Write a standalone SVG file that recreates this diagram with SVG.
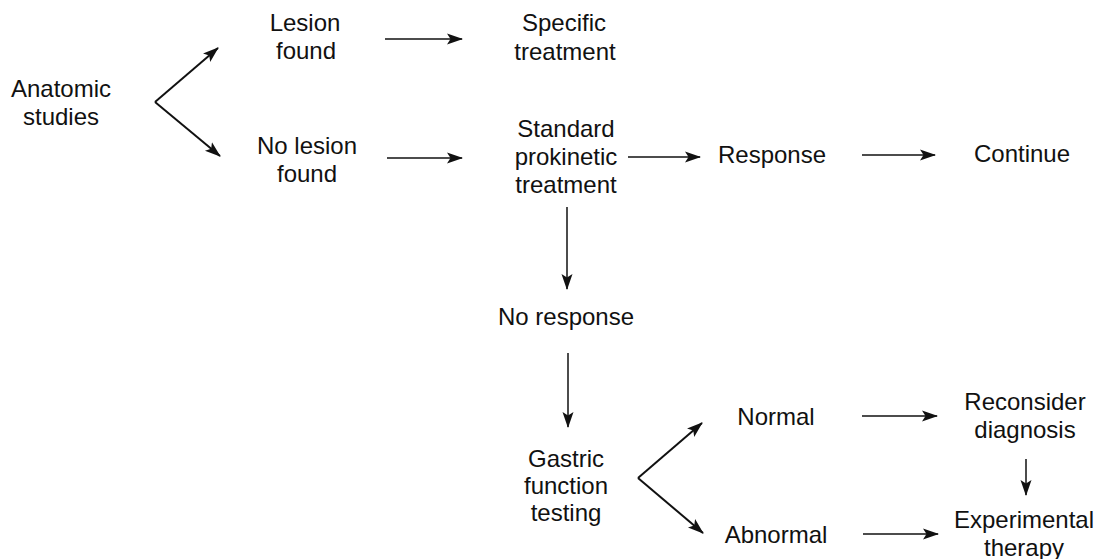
<svg xmlns="http://www.w3.org/2000/svg" width="1099" height="559" viewBox="0 0 1099 559">
<style>
text{font-family:"Liberation Sans",Arial,sans-serif;font-size:24px;fill:#111;text-anchor:middle}
.c{stroke:#111;stroke-width:1.5;fill:none;marker-end:url(#ah)}
.v{stroke-width:2}
</style>
<defs>
<marker id="ah" markerUnits="userSpaceOnUse" markerWidth="16" markerHeight="14" viewBox="0 0 16 14" refX="15" refY="7" orient="auto">
<path d="M0,1.5 L16,7 L0,12.5 L3.5,7 Z" fill="#111"/>
</marker>
</defs>
<rect width="1099" height="559" fill="#fff"/>
<g id="connectors">
<path class="c v" d="M155,102 L218,48"/>
<path class="c v" d="M155,102 L220,156"/>
<path class="c" d="M385,39 L462,39"/>
<path class="c" d="M387,158 L462,158"/>
<path class="c" d="M628,157 L700,157"/>
<path class="c" d="M862,155 L935,155"/>
<path class="c" d="M567,207 L567,289"/>
<path class="c" d="M568,353 L568,427"/>
<path class="c v" d="M638,478 L702,423"/>
<path class="c v" d="M638,478 L703,533"/>
<path class="c" d="M862,416 L937,416"/>
<path class="c" d="M863,534 L938,534"/>
<path class="c" d="M1026,459 L1026,495"/>
</g>
<g id="anatomic"><text x="61" y="97">Anatomic</text><text x="61" y="125">studies</text></g>
<g id="lesion"><text x="305" y="31">Lesion</text><text x="306" y="59">found</text></g>
<g id="nolesion"><text x="307" y="154">No lesion</text><text x="307" y="182">found</text></g>
<g id="specific"><text x="564" y="31">Specific</text><text x="565" y="60">treatment</text></g>
<g id="standard"><text x="566" y="137">Standard</text><text x="566" y="165">prokinetic</text><text x="566" y="193">treatment</text></g>
<g id="response"><text x="772" y="163">Response</text></g>
<g id="continue"><text x="1022" y="162">Continue</text></g>
<g id="noresponse"><text x="566" y="325">No response</text></g>
<g id="gastric"><text x="566" y="467">Gastric</text><text x="566" y="494">function</text><text x="566" y="521">testing</text></g>
<g id="normal"><text x="776" y="425">Normal</text></g>
<g id="abnormal"><text x="776" y="543">Abnormal</text></g>
<g id="reconsider"><text x="1025" y="410">Reconsider</text><text x="1025" y="438">diagnosis</text></g>
<g id="experimental"><text x="1024" y="528">Experimental</text><text x="1024" y="556">therapy</text></g>
</svg>
